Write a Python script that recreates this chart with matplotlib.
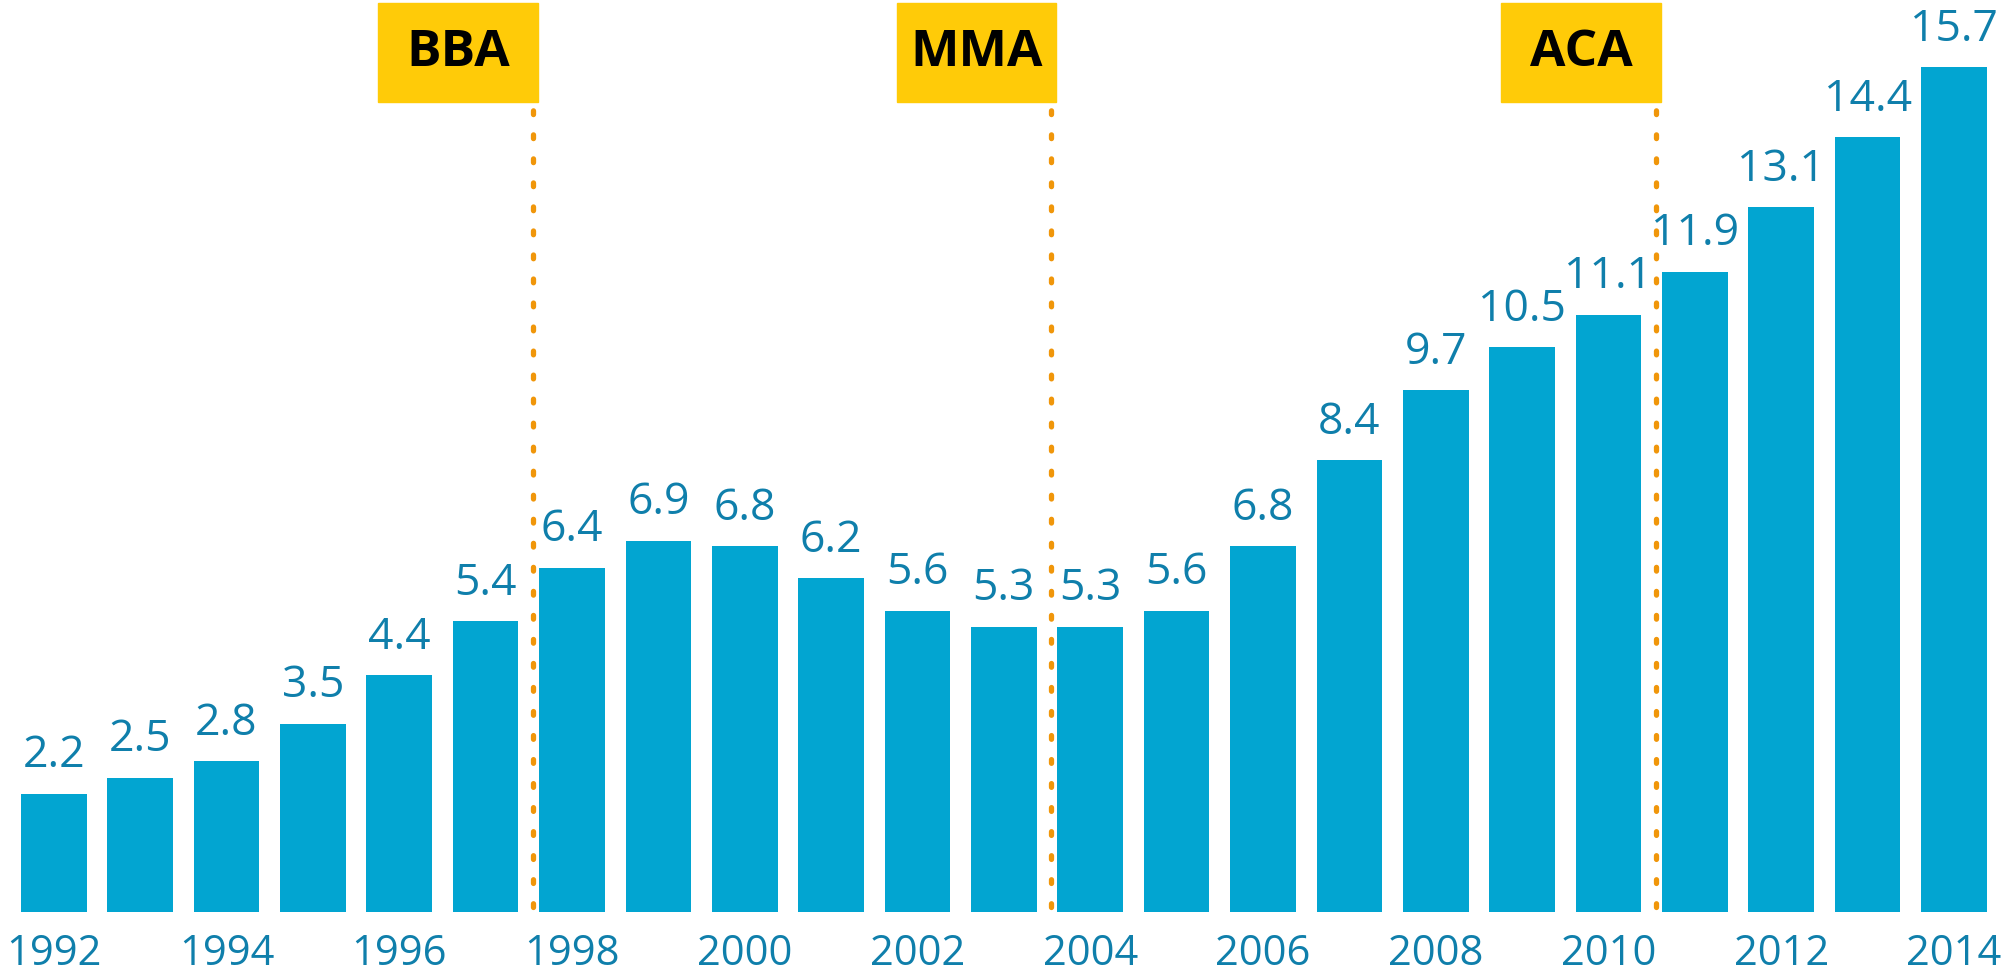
import matplotlib
matplotlib.use("Agg")
import matplotlib.pyplot as plt
import matplotlib.transforms as mtransforms
from matplotlib.patches import Rectangle
import numpy as np

years = list(range(1992, 2015))
values = [2.2, 2.5, 2.8, 3.5, 4.4, 5.4, 6.4, 6.9, 6.8, 6.2, 5.6, 5.3,
          5.3, 5.6, 6.8, 8.4, 9.7, 10.5, 11.1, 11.9, 13.1, 14.4, 15.7]
# laws, placed between the last year before and the first year after
events = ["BBA", "MMA", "ACA"]
event_after = [1997, 2003, 2010]

bar_color = "#02a5d1"
text_color = "#0f7fab"
box_color = "#ffcb08"
line_color = "#f0960a"

plt.rcParams["font.family"] = ["Open Sans", "DejaVu Sans"]
plt.rcParams["lines.scale_dashes"] = False

W, H, dpi = 2015, 972, 100
fig = plt.figure(figsize=(W / dpi, H / dpi), dpi=dpi)
ax = fig.add_axes([0, 60 / H, 1, 912 / H])

x = np.arange(len(years))
ax.bar(x, values, width=0.76, color=bar_color)

for xi, v in zip(x, values):
    ax.annotate(f"{v:.1f}", (xi, v), xytext=(0, 19), textcoords="offset points",
                ha="center", va="baseline", fontsize=32, color=text_color)

ax.set_xlim(-0.622, 22.706)
ax.set_ylim(0, 912 / 53.8)

ax.set_xticks(x[::2])
ax.set_xticklabels([str(y) for y in years[::2]], fontsize=30, color=text_color)
ax.tick_params(axis="x", length=0, pad=15)
ax.set_yticks([])
for s in ax.spines.values():
    s.set_visible(False)

trans = mtransforms.blended_transform_factory(ax.transData, ax.transAxes)
box_w = 1.85
box_top = 1 - 3 / 912
box_bot = 1 - 102 / 912
for name, yr in zip(events, event_after):
    lx = years.index(yr) + 0.55
    ax.plot([lx, lx], [0.005, box_bot - 8 / 912], transform=trans, color=line_color,
            lw=3.8, dashes=(2.7, 14.6), dash_capstyle="round", clip_on=False)
    ax.add_patch(Rectangle((lx + 0.058 - box_w, box_bot), box_w, box_top - box_bot,
                           transform=trans, color=box_color, clip_on=False))
    ax.text(lx + 0.058 - box_w / 2, (box_top + box_bot) / 2, name, transform=trans,
            ha="center", va="center", fontsize=37, fontweight="bold", color="black")

fig.savefig("out.png", dpi=dpi)
